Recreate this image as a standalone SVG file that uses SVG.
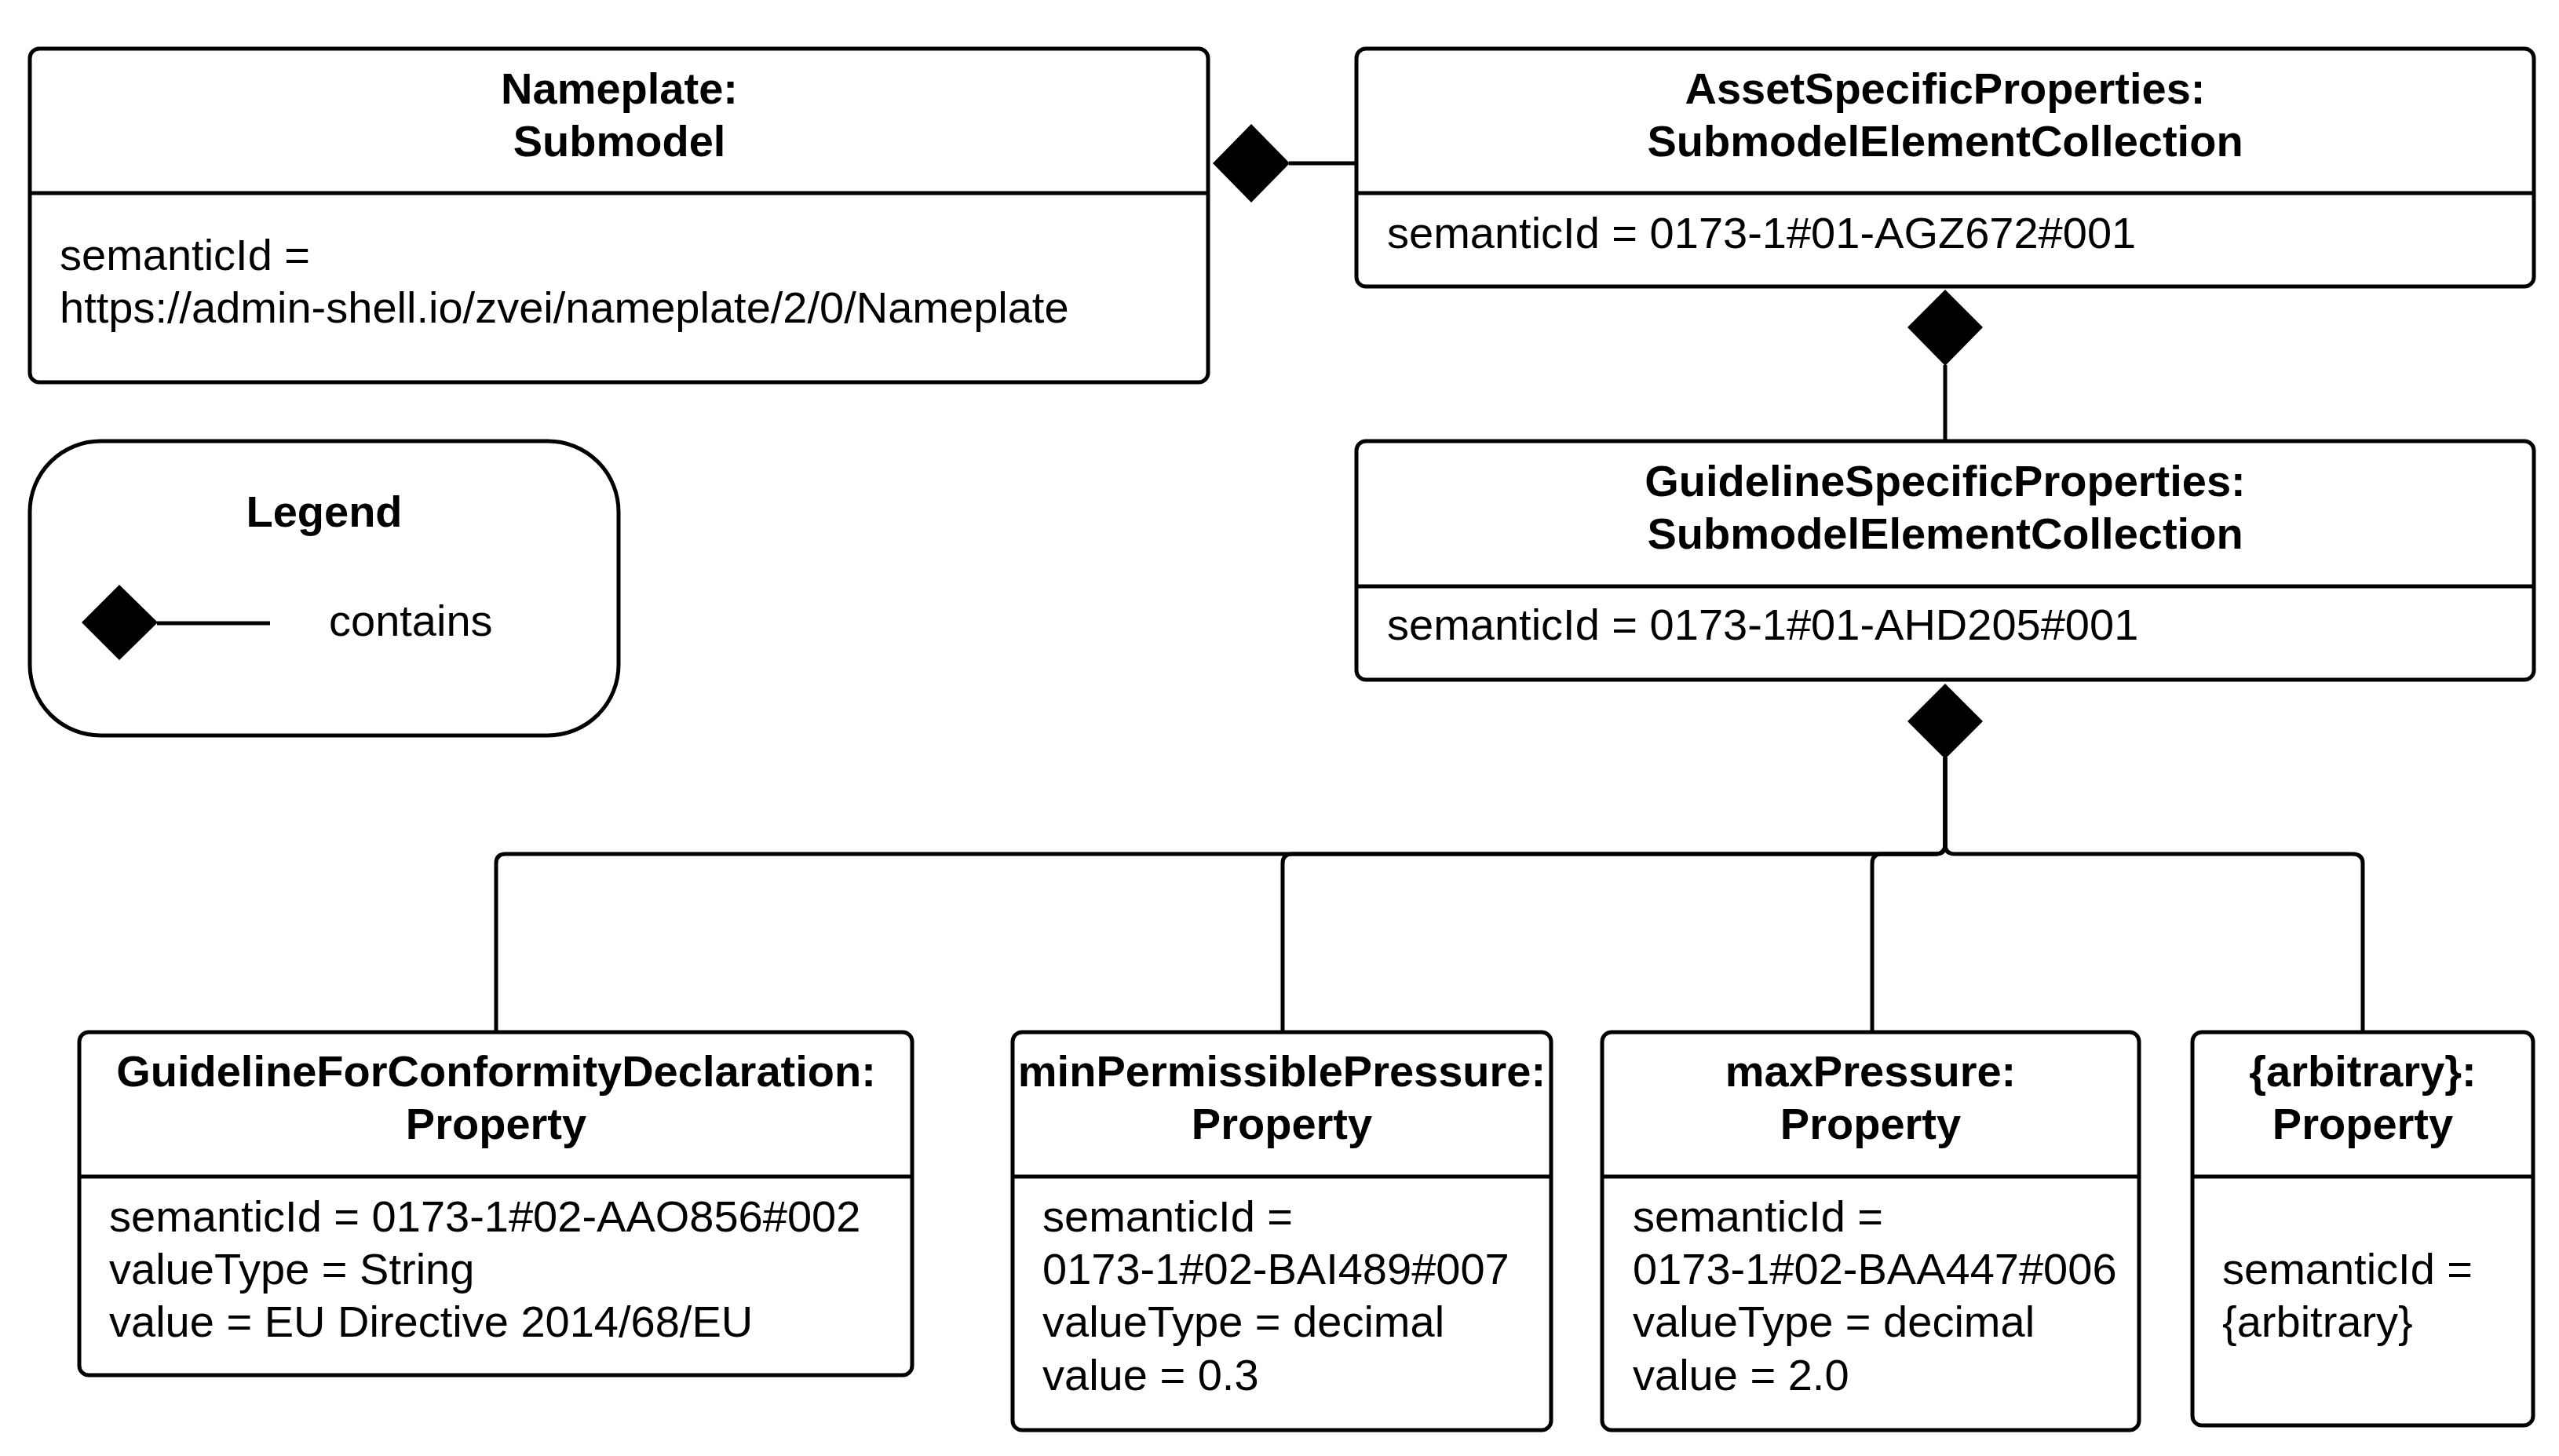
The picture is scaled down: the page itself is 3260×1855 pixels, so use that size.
<svg xmlns="http://www.w3.org/2000/svg" width="3260" height="1855" viewBox="0 0 3260 1855">
<style>
.box{fill:#fff;stroke:#000;stroke-width:5}
.ln{fill:none;stroke:#000;stroke-width:5}
.t{font-family:"Liberation Sans",Arial,sans-serif;font-size:56px;fill:#000}
.b{font-weight:bold;text-anchor:middle}
.dia{fill:#000;stroke:none}
</style>
<rect width="3260" height="1855" fill="#fff"/>
<g id="connectors">
<path class="ln" d="M1642,208 H1728"/>
<path class="dia" d="M1545,208 L1594,158 L1643,208 L1594,258 Z"/>
<path class="ln" d="M2478,465 V562"/>
<path class="dia" d="M2478,369 L2526,417 L2478,466 L2430,417 Z"/>
<path class="ln" d="M2478,965 V1076 Q2478,1088 2466,1088 H644 Q632,1088 632,1100 V1315"/>
<path class="ln" d="M2478,965 V1076 Q2478,1088 2466,1088 H1646 Q1634,1088 1634,1100 V1315"/>
<path class="ln" d="M2478,965 V1076 Q2478,1088 2490,1088 H2997 Q3010,1088 3010,1100 V1315"/>
<path class="ln" d="M2478,965 V1076 Q2478,1088 2466,1088 H2397 Q2385,1088 2385,1100 V1315"/>
<path class="dia" d="M2478,871 L2526,919 L2478,967 L2430,919 Z"/>
</g>
<g id="nameplate">
<rect class="box" x="38" y="62" width="1501" height="425" rx="12"/>
<path class="ln" d="M38,246 H1539"/>
<text class="t b" x="789" y="132">Nameplate:</text>
<text class="t b" x="789" y="199">Submodel</text>
<text class="t" x="76" y="344">semanticId =</text>
<text class="t" x="76" y="411">https://admin-shell.io/zvei/nameplate/2/0/Nameplate</text>
</g>
<g id="asset">
<rect class="box" x="1728" y="62" width="1500" height="303" rx="12"/>
<path class="ln" d="M1728,246 H3228"/>
<text class="t b" x="2478" y="132">AssetSpecificProperties:</text>
<text class="t b" x="2478" y="199">SubmodelElementCollection</text>
<text class="t" x="1767" y="316">semanticId = 0173-1#01-AGZ672#001</text>
</g>
<g id="guideline">
<rect class="box" x="1728" y="562" width="1500" height="304" rx="12"/>
<path class="ln" d="M1728,747 H3228"/>
<text class="t b" x="2478" y="632">GuidelineSpecificProperties:</text>
<text class="t b" x="2478" y="699">SubmodelElementCollection</text>
<text class="t" x="1767" y="815">semanticId = 0173-1#01-AHD205#001</text>
</g>
<g id="legend">
<rect class="box" x="38" y="562" width="750" height="375" rx="90"/>
<text class="t b" x="413" y="671">Legend</text>
<path class="dia" d="M104,793 L152,745 L201,793 L152,841 Z"/>
<path class="ln" d="M200,794 H344"/>
<text class="t" x="419" y="810">contains</text>
</g>
<g id="conformity">
<rect class="box" x="101" y="1315" width="1061" height="437" rx="12"/>
<path class="ln" d="M101,1499 H1162"/>
<text class="t b" x="632" y="1384">GuidelineForConformityDeclaration:</text>
<text class="t b" x="632" y="1451">Property</text>
<text class="t" x="139" y="1569">semanticId = 0173-1#02-AAO856#002</text>
<text class="t" x="139" y="1636">valueType = String</text>
<text class="t" x="139" y="1703">value = EU Directive 2014/68/EU</text>
</g>
<g id="minPressure">
<rect class="box" x="1290" y="1315" width="686" height="507" rx="12"/>
<path class="ln" d="M1290,1499 H1976"/>
<text class="t b" x="1633" y="1384">minPermissiblePressure:</text>
<text class="t b" x="1633" y="1451">Property</text>
<text class="t" x="1328" y="1569">semanticId =</text>
<text class="t" x="1328" y="1636">0173-1#02-BAI489#007</text>
<text class="t" x="1328" y="1703">valueType = decimal</text>
<text class="t" x="1328" y="1771">value = 0.3</text>
</g>
<g id="maxPressure">
<rect class="box" x="2041" y="1315" width="684" height="507" rx="12"/>
<path class="ln" d="M2041,1499 H2725"/>
<text class="t b" x="2383" y="1384">maxPressure:</text>
<text class="t b" x="2383" y="1451">Property</text>
<text class="t" x="2080" y="1569">semanticId =</text>
<text class="t" x="2080" y="1636">0173-1#02-BAA447#006</text>
<text class="t" x="2080" y="1703">valueType = decimal</text>
<text class="t" x="2080" y="1771">value = 2.0</text>
</g>
<g id="arbitrary">
<rect class="box" x="2793" y="1315" width="434" height="501" rx="12"/>
<path class="ln" d="M2793,1499 H3227"/>
<text class="t b" x="3010" y="1384">{arbitrary}:</text>
<text class="t b" x="3010" y="1451">Property</text>
<text class="t" x="2831" y="1636">semanticId =</text>
<text class="t" x="2831" y="1703">{arbitrary}</text>
</g>
</svg>
